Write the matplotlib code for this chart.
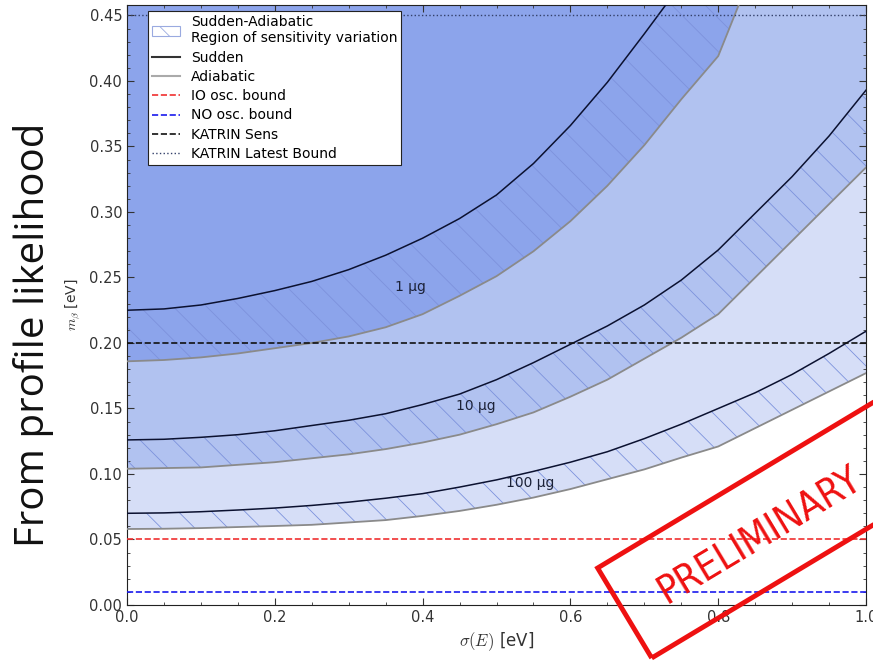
import numpy as np
import matplotlib
matplotlib.use("Agg")
import matplotlib.pyplot as plt
from matplotlib.patches import Patch, Rectangle
from matplotlib.lines import Line2D
from matplotlib.ticker import MultipleLocator, FormatStrFormatter

plt.rcParams['mathtext.fontset'] = 'cm'
plt.rcParams['hatch.linewidth'] = 0.6

# energy resolution grids [eV]
sigma_sudden = [0.0, 0.05, 0.1, 0.15, 0.2, 0.25, 0.3, 0.35, 0.4, 0.45, 0.5,
                0.55, 0.6, 0.65, 0.7, 0.75, 0.8, 0.85, 0.9, 0.95, 1.0]
sigma_adiab = [0.0, 0.05, 0.1, 0.15, 0.2, 0.25, 0.3, 0.35, 0.4, 0.45, 0.5,
               0.55, 0.6, 0.65, 0.7, 0.75, 0.8, 1.0]

# m_beta sensitivity [eV] per source mass
masses = ['1 µg', '10 µg', '100 µg']
sudden_1ug = [0.225, 0.226, 0.229, 0.234, 0.240, 0.247, 0.256, 0.267, 0.280, 0.295, 0.313,
              0.337, 0.366, 0.399, 0.436, 0.474, 0.515, 0.56, 0.61, 0.66, 0.71]
adiab_1ug = [0.186, 0.187, 0.189, 0.192, 0.196, 0.200, 0.205, 0.212, 0.222, 0.236, 0.251,
             0.270, 0.293, 0.320, 0.351, 0.386, 0.419, 0.70]
sudden_10ug = [0.126, 0.1265, 0.128, 0.130, 0.133, 0.137, 0.141, 0.146, 0.153, 0.161, 0.172,
               0.185, 0.199, 0.213, 0.229, 0.248, 0.271, 0.299, 0.327, 0.358, 0.393]
adiab_10ug = [0.104, 0.1045, 0.105, 0.107, 0.109, 0.112, 0.115, 0.119, 0.124, 0.130, 0.138,
              0.147, 0.159, 0.172, 0.188, 0.204, 0.222, 0.334]
sudden_100ug = [0.070, 0.0703, 0.0712, 0.0725, 0.074, 0.076, 0.0785, 0.0815, 0.085, 0.090, 0.0955,
                0.102, 0.109, 0.117, 0.127, 0.138, 0.150, 0.162, 0.176, 0.192, 0.209]
adiab_100ug = [0.058, 0.0582, 0.0587, 0.0595, 0.0603, 0.0612, 0.063, 0.0648, 0.068, 0.0718, 0.0765,
               0.082, 0.0885, 0.096, 0.1035, 0.1125, 0.121, 0.177]

# reference bounds [eV]
io_bound = 0.05
no_bound = 0.01
katrin_sens = 0.2
katrin_latest = 0.45

# label anchor points (sigma, m_beta)
label_pos = [(0.383, 0.2425), (0.472, 0.152), (0.545, 0.0933)]

region_colors = ['#8ca4eb', '#b1c2f0', '#d6def7']
hatch_color = '#7d92dc'

fig = plt.figure(figsize=(8.73, 6.66), dpi=100)
ax = fig.add_axes([0.1455, 0.0916, 0.8465, 0.9009])

sudden = [sudden_1ug, sudden_10ug, sudden_100ug]
adiab = [adiab_1ug, adiab_10ug, adiab_100ug]

# shaded regions, lightest (largest mass) first
for i in [2, 1, 0]:
    ax.fill_between(sigma_adiab, adiab[i], 1.0, color=region_colors[i], lw=0, zorder=1)

# hatched band between sudden and adiabatic
for i in range(3):
    xs = np.concatenate([sigma_sudden, sigma_adiab[::-1]])
    ys = np.concatenate([sudden[i], adiab[i][::-1]])
    ax.fill(xs, ys, facecolor='none', edgecolor=hatch_color, hatch='\\', lw=0, zorder=2)
    ax.plot(sigma_sudden, sudden[i], color='#0b1130', lw=1.1, zorder=3)
    ax.plot(sigma_adiab, adiab[i], color='#8a8a8a', lw=1.3, zorder=3)

for (sx, sy), lab in zip(label_pos, masses):
    ax.text(sx, sy, lab, fontsize=10, color='#1c2238', ha='center', va='center', zorder=4)

ax.axhline(io_bound, color='#f03030', ls='--', lw=1.2, zorder=3)
ax.axhline(no_bound, color='#1a1aee', ls='--', lw=1.2, zorder=3)
ax.axhline(katrin_sens, color='#111111', ls='--', lw=1.2, zorder=3)
ax.axhline(katrin_latest, color='#33406a', ls=':', lw=1.0, zorder=3)

ax.set_xlim(0, 1.0)
ax.set_ylim(0, 0.458)
ax.xaxis.set_major_locator(MultipleLocator(0.2))
ax.xaxis.set_minor_locator(MultipleLocator(0.05))
ax.yaxis.set_major_locator(MultipleLocator(0.05))
ax.yaxis.set_minor_locator(MultipleLocator(0.01))
ax.xaxis.set_major_formatter(FormatStrFormatter('%.1f'))
ax.yaxis.set_major_formatter(FormatStrFormatter('%.2f'))
ax.tick_params(which='both', direction='in', top=True, right=True, labelsize=10.5, colors='#333333')
ax.tick_params(which='major', length=5)
ax.tick_params(which='minor', length=2.5)
for sp in ax.spines.values():
    sp.set_color('#222222')

ax.set_xlabel(r'$\sigma(E)$ [eV]', fontsize=12, color='#333333')
ax.set_ylabel(r'$m_\beta$ [eV]', fontsize=10, color='#333333', labelpad=5)

handles = [
    Patch(facecolor='white', edgecolor='#9aaae0', hatch='\\', lw=0.8),
    Line2D([], [], color='#333333', lw=1.5),
    Line2D([], [], color='#aaaaaa', lw=1.5),
    Line2D([], [], color='#f03030', ls='--', lw=1.2),
    Line2D([], [], color='#1a1aee', ls='--', lw=1.2),
    Line2D([], [], color='#111111', ls='--', lw=1.2),
    Line2D([], [], color='#33406a', ls=':', lw=1.0),
]
labels = ['Sudden-Adiabatic\nRegion of sensitivity variation', 'Sudden', 'Adiabatic',
          'IO osc. bound', 'NO osc. bound', 'KATRIN Sens', 'KATRIN Latest Bound']
leg = ax.legend(handles, labels, loc='upper left', bbox_to_anchor=(0.028, 0.99),
                fontsize=10, fancybox=False, framealpha=1, edgecolor='#222222',
                handlelength=2.0, labelspacing=0.38, borderpad=0.3, borderaxespad=0)
leg.get_frame().set_linewidth(0.8)
leg.set_zorder(5)

fig.text(0.038, 0.497, 'From profile likelihood', rotation=90, fontsize=29,
         family='Open Sans', ha='center', va='center', color='#111111')

# PRELIMINARY stamp
stamp = Rectangle((6.517, 0.08), 4.0, 1.05, angle=31, fill=False, edgecolor='#ee1111',
                  lw=3.5, transform=fig.dpi_scale_trans, zorder=10, clip_on=False)
fig.add_artist(stamp)
fig.text(7.60 / 8.73, 1.31 / 6.66, 'PRELIMINARY', rotation=31, rotation_mode='anchor',
         fontsize=28, family='DejaVu Sans', fontstretch='condensed',
         color='#ee1111', ha='center', va='center', zorder=11)

fig.savefig('out.png', dpi=100)
